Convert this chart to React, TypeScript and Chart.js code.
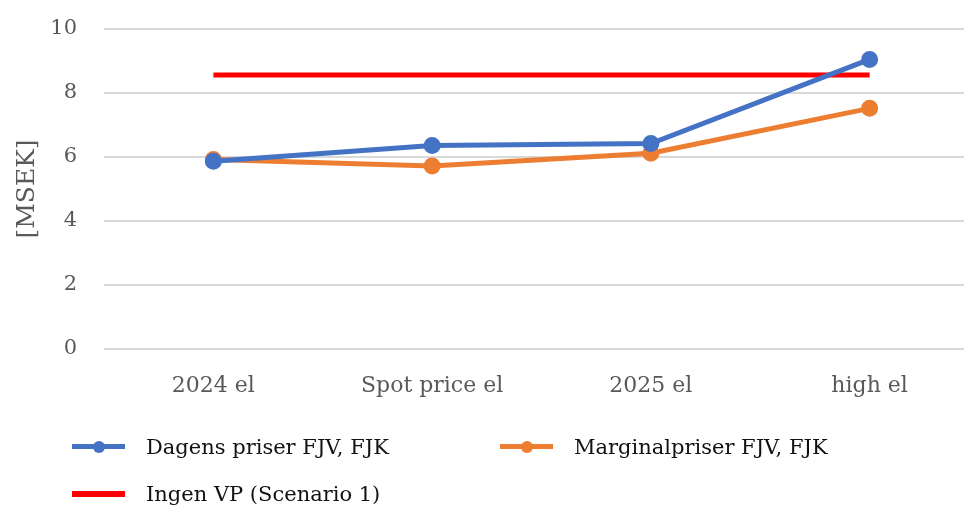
import React, { useEffect, useRef } from "react";
import { Chart, registerables } from "chart.js";

Chart.register(...registerables);

const categories = ["2024 el", "Spot price el", "2025 el", "high el"];
const dagensPriser = [5.87, 6.36, 6.42, 9.05];
const marginalPriser = [5.92, 5.72, 6.12, 7.52];
const ingenVP = [8.56, 8.56, 8.56, 8.56];
const yTicks = [0, 2, 4, 6, 8, 10];

const seriesNames = ["Dagens priser FJV, FJK", "Marginalpriser FJV, FJK", "Ingen VP (Scenario 1)"];
const BLUE = "#4472C4";
const ORANGE = "#ED7D31";
const RED = "#FF0000";
const FONT = "'DejaVu Serif', serif";

function LegendItem({ color, label, dot, left, top }: { color: string; label: string; dot: boolean; left: number; top: number }) {
  return (
    <div style={{ position: "absolute", left, top, display: "flex", alignItems: "center", height: 26 }}>
      <div style={{ position: "relative", width: 53, height: 26 }}>
        <div style={{ position: "absolute", left: 0, top: 10, width: 53, height: dot ? 5 : 6, background: color }} />
        {dot && (
          <div style={{ position: "absolute", left: 21, top: 6.5, width: 12, height: 12, borderRadius: 6, background: color }} />
        )}
      </div>
      <span style={{ marginLeft: 21, fontFamily: FONT, fontSize: 21, color: "#111", whiteSpace: "nowrap" }}>{label}</span>
    </div>
  );
}

export default function App() {
  const ref = useRef<HTMLCanvasElement | null>(null);

  useEffect(() => {
    document.body.style.margin = "0";
    document.body.style.overflow = "hidden";
    if (!ref.current) return;
    const chart = new Chart(ref.current, {
      type: "line",
      data: {
        labels: categories,
        datasets: [
          {
            label: seriesNames[0],
            data: dagensPriser,
            borderColor: BLUE,
            backgroundColor: BLUE,
            borderWidth: 5,
            pointRadius: 6,
            pointHoverRadius: 6,
            tension: 0,
          },
          {
            label: seriesNames[1],
            data: marginalPriser,
            borderColor: ORANGE,
            backgroundColor: ORANGE,
            borderWidth: 5,
            pointRadius: 6,
            pointHoverRadius: 6,
            tension: 0,
          },
          {
            label: seriesNames[2],
            data: ingenVP,
            borderColor: RED,
            backgroundColor: RED,
            borderWidth: 5,
            pointRadius: 0,
            tension: 0,
          },
        ],
      },
      options: {
        responsive: false,
        animation: false,
        layout: { padding: { top: 29, right: 10, bottom: 98, left: 0 } },
        plugins: { legend: { display: false }, tooltip: { enabled: false } },
        scales: {
          x: {
            offset: true,
            grid: { display: false, drawTicks: false },
            border: { display: false },
            ticks: { padding: 24, color: "#595959", font: { family: FONT, size: 22 } },
            afterFit: (s: any) => {
              s.height = 60;
              s.paddingLeft = 0;
              s.paddingRight = 0;
            },
          },
          y: {
            min: 0,
            max: 10,
            afterBuildTicks: (s: any) => {
              s.ticks = yTicks.map((v) => ({ value: v }));
            },
            grid: { color: "#d9d9d9", lineWidth: 2, drawTicks: false },
            border: { display: false },
            ticks: { padding: 27, color: "#595959", font: { family: FONT, size: 21 } },
            title: {
              display: true,
              text: "[MSEK]",
              color: "#595959",
              font: { family: FONT, size: 25 },
              padding: { top: 12, bottom: 0 },
            },
            afterFit: (s: any) => {
              s.width = 104;
              s.paddingTop = 0;
              s.paddingBottom = 0;
            },
          },
        },
      },
    });
    return () => chart.destroy();
  }, []);

  return (
    <div style={{ position: "relative", width: 990, height: 507 }}>
      <canvas ref={ref} width={990} height={507} style={{ display: "block" }} />
      <LegendItem color={BLUE} label={seriesNames[0]} dot left={72} top={434} />
      <LegendItem color={ORANGE} label={seriesNames[1]} dot left={500} top={434} />
      <LegendItem color={RED} label={seriesNames[2]} dot={false} left={72} top={481} />
    </div>
  );
}
